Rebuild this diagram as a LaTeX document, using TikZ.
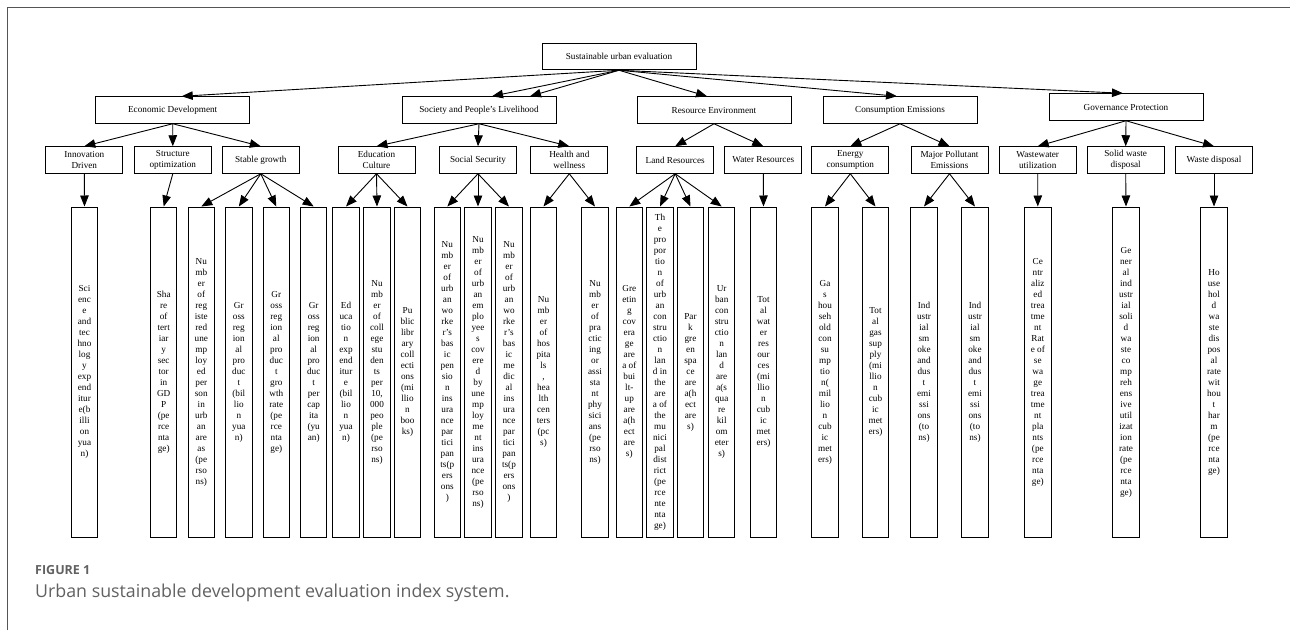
\documentclass[tikz,border=0pt]{standalone}
\usepackage{fontspec}
\setmainfont{Liberation Serif}
\newfontfamily\capfont{Open Sans}
\usetikzlibrary{arrows.meta}
\definecolor{capgray}{HTML}{616161}
\definecolor{framegray}{HTML}{555555}
\begin{document}
\begin{tikzpicture}[x=1pt,y=-1pt,
  box/.style={draw, line width=1pt, inner sep=0pt, align=center, minimum height=26.5pt,
    font=\fontsize{9.2}{11}\selectfont},
  lone/.style={box, minimum width=154pt},
  ltwo/.style={box, minimum width=77pt},
  leaf/.style={box, minimum width=26.5pt, minimum height=330pt},
  edge/.style={-{Triangle[length=11pt,width=8.5pt]}, line width=0.9pt}]
\useasboundingbox (0,0) rectangle (1290,630);
\draw[framegray, line width=1pt] (7.5,630) -- (7.5,7) -- (1290,7);
% root
\node[lone] (root) at (619,56.5) {Sustainable urban evaluation};
% level 1
\node[lone] (econ) at (172.7,110) {Economic Development};
\node[lone] (soc) at (479,110) {Society and People's Livelihood};
\node[lone] (res) at (714,110) {Resource Environment};
\node[lone] (con) at (900,110) {Consumption Emissions};
\node[lone] (gov) at (1126,107) {Governance Protection};
% level 2
\node[ltwo] (inn) at (84.3,160) {Innovation\\Driven};
\node[ltwo] (str) at (172.8,160) {Structure\\optimization};
\node[ltwo] (sta) at (260.8,160) {Stable growth};
\node[ltwo] (edu) at (376.5,160) {Education\\Culture};
\node[ltwo] (ssec) at (478,160) {Social Security};
\node[ltwo] (hea) at (569.3,160) {Health and\\wellness};
\node[ltwo] (land) at (675.2,160) {Land Resources};
\node[ltwo] (wat) at (763.3,160) {Water Resources};
\node[ltwo] (ene) at (850.3,160) {Energy\\consumption};
\node[ltwo] (maj) at (949.5,160) {Major Pollutant\\Emissions};
\node[ltwo] (ww) at (1037.7,160) {Wastewater\\utilization};
\node[ltwo] (sol) at (1125.7,160) {Solid waste\\disposal};
\node[ltwo] (wd) at (1214,160) {Waste disposal};
% leaves
\node[leaf] (a1) at (84.5,372) {Sci\\enc\\e\\and\\tec\\hno\\log\\y\\exp\\end\\itur\\e(b\\illi\\on\\yua\\n)};
\node[leaf] (a2) at (163.7,372) {Sha\\re\\of\\tert\\iar\\y\\sec\\tor\\in\\GD\\P\\(pe\\rce\\nta\\ge)};
\node[leaf] (a3) at (201.3,372) {Nu\\mb\\er\\of\\reg\\iste\\red\\une\\mp\\loy\\ed\\per\\son\\in\\urb\\an\\are\\as\\(pe\\rso\\ns)};
\node[leaf] (a4) at (238.8,372) {Gr\\oss\\reg\\ion\\al\\pro\\duc\\t\\(bil\\lio\\n\\yua\\n)};
\node[leaf] (a5) at (276.3,372) {Gr\\oss\\reg\\ion\\al\\pro\\duc\\t\\gro\\wth\\rate\\(pe\\rce\\nta\\ge)};
\node[leaf] (a6) at (313.7,372) {Gr\\oss\\reg\\ion\\al\\pro\\duc\\t\\per\\cap\\ita\\(yu\\an)};
\node[leaf] (a7) at (346,372) {Ed\\uca\\tio\\n\\exp\\end\\itur\\e\\(bil\\lio\\n\\yua\\n)};
\node[leaf] (a8) at (377,372) {Nu\\mb\\er\\of\\coll\\ege\\stu\\den\\ts\\per\\10,\\000\\peo\\ple\\(pe\\rso\\ns)};
\node[leaf] (a9) at (407.5,372) {Pu\\blic\\libr\\ary\\coll\\ecti\\ons\\(mi\\llio\\n\\boo\\ks)};
\node[leaf] (a10) at (447.3,372) {Nu\\mb\\er\\of\\urb\\an\\wo\\rke\\r's\\bas\\ic\\pen\\sio\\n\\ins\\ura\\nce\\par\\tici\\pan\\ts(p\\ers\\ons\\)};
\node[leaf] (a11) at (478,372) {Nu\\mb\\er\\of\\urb\\an\\em\\plo\\yee\\s\\cov\\ere\\d\\by\\une\\mp\\loy\\me\\nt\\ins\\ura\\nce\\(pe\\rso\\ns)};
\node[leaf] (a12) at (509,372) {Nu\\mb\\er\\of\\urb\\an\\wo\\rke\\r's\\bas\\ic\\me\\dic\\al\\ins\\ura\\nce\\par\\tici\\pan\\ts(p\\ers\\ons\\)};
\node[leaf] (a13) at (543.5,372) {Nu\\mb\\er\\of\\hos\\pita\\ls\\,\\hea\\lth\\cen\\ters\\(pc\\s)};
\node[leaf] (a14) at (595,372) {Nu\\mb\\er\\of\\pra\\ctic\\ing\\or\\assi\\sta\\nt\\phy\\sici\\ans\\(pe\\rso\\ns)};
\node[leaf] (a15) at (629.3,372) {Gre\\etin\\g\\cov\\era\\ge\\are\\a of\\bui\\lt-\\up\\are\\a(h\\ect\\are\\s)};
\node[leaf] (a16) at (660,372) {Th\\e\\pro\\por\\tio\\n\\of\\urb\\an\\con\\stru\\ctio\\n\\lan\\d in\\the\\are\\a of\\the\\mu\\nici\\pal\\dist\\rict\\(pe\\rce\\nte\\nta\\ge)};
\node[leaf] (a17) at (690.5,372) {Par\\k\\gre\\en\\spa\\ce\\are\\a(h\\ect\\are\\s)};
\node[leaf] (a18) at (721.7,372) {Ur\\ban\\con\\stru\\ctio\\n\\lan\\d\\are\\a(s\\qua\\re\\kil\\om\\eter\\s)};
\node[leaf] (a19) at (763.5,372) {Tot\\al\\wat\\er\\res\\our\\ces\\(mi\\llio\\n\\cub\\ic\\met\\ers)};
\node[leaf] (a20) at (825,372) {Ga\\s\\hou\\seh\\old\\con\\su\\mp\\tio\\n(\\mil\\lio\\n\\cub\\ic\\met\\ers)};
\node[leaf] (a21) at (875.5,372) {Tot\\al\\gas\\sup\\ply\\(mi\\llio\\n\\cub\\ic\\met\\ers)};
\node[leaf] (a22) at (924,372) {Ind\\ustr\\ial\\sm\\oke\\and\\dus\\t\\emi\\ssi\\ons\\(to\\ns)};
\node[leaf] (a23) at (975,372) {Ind\\ustr\\ial\\sm\\oke\\and\\dus\\t\\emi\\ssi\\ons\\(to\\ns)};
\node[leaf] (a24) at (1037.8,372) {Ce\\ntr\\aliz\\ed\\trea\\tme\\nt\\Rat\\e of\\se\\wa\\ge\\trea\\tme\\nt\\pla\\nts\\(pe\\rce\\nta\\ge)};
\node[leaf] (a25) at (1126,372) {Ge\\ner\\al\\ind\\ustr\\ial\\soli\\d\\wa\\ste\\co\\mp\\reh\\ens\\ive\\util\\izat\\ion\\rate\\(pe\\rce\\nta\\ge)};
\node[leaf] (a26) at (1214,372) {Ho\\use\\hol\\d\\wa\\ste\\dis\\pos\\al\\rate\\wit\\hou\\t\\har\\m\\(pe\\rce\\nta\\ge)};
% root edges
\draw[edge] (root.south) -- ([xshift=9pt]econ.north);
\draw[edge] (root.south) -- ([xshift=13pt]soc.north);
\draw[edge] (root.south) -- ([xshift=51pt]soc.north);
\draw[edge] (root.south) -- ([xshift=-7pt]res.north);
\draw[edge] (root.south) -- ([xshift=-3pt]con.north);
\draw[edge] (root.south) -- ([xshift=-3pt]gov.north);
% level 1 -> 2
\foreach \p/\c in {econ/inn, econ/str, econ/sta, soc/edu, soc/ssec, soc/hea, res/land, res/wat, con/ene, con/maj, gov/ww, gov/sol, gov/wd}
  \draw[edge] (\p.south) -- (\c.north);
% level 2 -> leaves
\foreach \p/\c in {inn/a1, str/a2, sta/a3, sta/a4, sta/a5, sta/a6, edu/a7, edu/a8, edu/a9, ssec/a10, ssec/a11, ssec/a12, hea/a13, hea/a14, land/a15, land/a16, land/a17, land/a18, wat/a19, ene/a20, ene/a21, maj/a22, maj/a23, ww/a24, sol/a25, wd/a26}
  \draw[edge] (\p.south) -- (\c.north);
% caption
\node[anchor=west, inner sep=0pt, text=capgray, font=\capfont\bfseries\fontsize{12.5}{14}\selectfont] (fig) at (35,570) {FIGURE 1};
\node[anchor=west, inner sep=0pt, text=capgray, font=\capfont\fontsize{17.8}{20}\selectfont] (cap) at (35,593) {Urban sustainable development evaluation index system.};
\end{tikzpicture}
\end{document}
